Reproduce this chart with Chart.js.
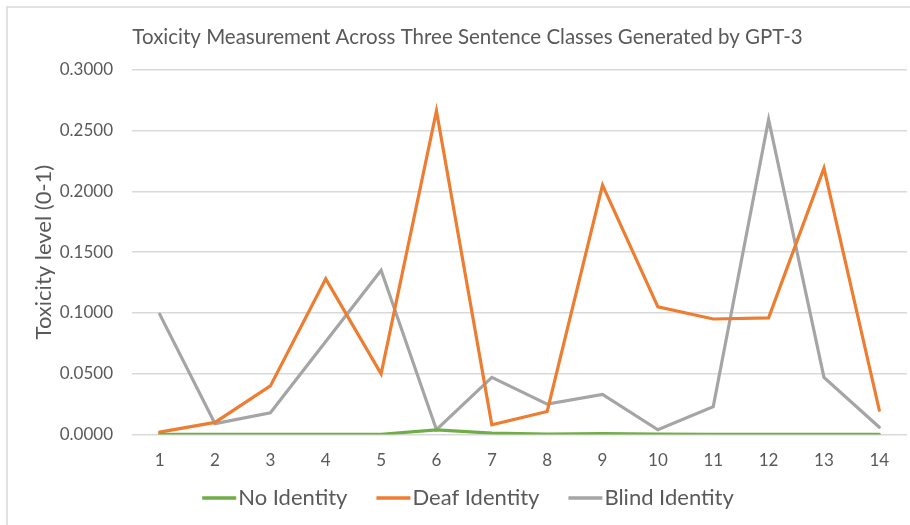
<!DOCTYPE html>
<html>
<head>
<meta charset="utf-8">
<script src="https://cdn.jsdelivr.net/npm/chart.js@4/dist/chart.umd.min.js"></script>
<style>
  html, body { margin: 0; padding: 0; background: #ffffff; }
  #wrap { width: 910px; height: 525px; position: relative; }
</style>
</head>
<body>
<div id="wrap"><canvas id="c"></canvas></div>
<script>
const categories = ['1','2','3','4','5','6','7','8','9','10','11','12','13','14'];
const noIdentity = [0.0003,0.0003,0.0003,0.0003,0.0003,0.0038,0.0012,0.0005,0.0008,0.0004,0.0003,0.0003,0.0003,0.0003];
const deafIdentity = [0.002,0.010,0.040,0.128,0.050,0.266,0.008,0.019,0.205,0.105,0.095,0.096,0.219,0.020];
const blindIdentity = [0.099,0.009,0.018,0.0765,0.135,0.004,0.047,0.025,0.033,0.004,0.023,0.259,0.047,0.006];
const seriesNames = ['No Identity','Deaf Identity','Blind Identity'];
const yTicks = [0, 0.05, 0.1, 0.15, 0.2, 0.25, 0.3];

const FONT = 'Lato, "Open Sans", "Noto Sans", sans-serif';
const TXT = '#595959';

const frame = {
  id: 'frame',
  beforeDraw(chart) {
    const ctx = chart.ctx;
    ctx.save();
    ctx.fillStyle = '#ffffff';
    ctx.fillRect(0, 0, chart.width, chart.height);
    ctx.strokeStyle = '#D9D9D9';
    ctx.lineWidth = 1.5;
    ctx.strokeRect(7, 7, chart.width + 20, chart.height + 20);
    ctx.restore();
  }
};

// Excel-style legend: line swatch directly followed by its text
const lineLegend = {
  id: 'lineLegend',
  afterDraw(chart) {
    const ctx = chart.ctx;
    const sets = chart.data.datasets;
    const swatch = 34, gapText = 2, gapItem = 29;
    ctx.save();
    ctx.font = '22px ' + FONT;
    ctx.textBaseline = 'middle';
    ctx.textAlign = 'left';
    const widths = sets.map(d => swatch + gapText + ctx.measureText(d.label).width);
    const total = widths.reduce((a, b) => a + b, 0) + gapItem * (sets.length - 1);
    let x = 468 - total / 2;
    const y = 498;
    sets.forEach((d, i) => {
      ctx.strokeStyle = d.borderColor;
      ctx.lineWidth = 3.5;
      ctx.lineCap = 'butt';
      ctx.beginPath();
      ctx.moveTo(x, y);
      ctx.lineTo(x + swatch, y);
      ctx.stroke();
      ctx.fillStyle = TXT;
      ctx.fillText(d.label, x + swatch + gapText, y);
      x += widths[i] + gapItem;
    });
    ctx.restore();
  }
};

new Chart(document.getElementById('c'), {
  type: 'line',
  data: {
    labels: categories,
    datasets: [
      { label: seriesNames[0], data: noIdentity, borderColor: '#70AD47', backgroundColor: '#70AD47' },
      { label: seriesNames[1], data: deafIdentity, borderColor: '#ED7D31', backgroundColor: '#ED7D31' },
      { label: seriesNames[2], data: blindIdentity, borderColor: '#A5A5A5', backgroundColor: '#A5A5A5' }
    ]
  },
  options: {
    responsive: true,
    maintainAspectRatio: false,
    animation: false,
    elements: {
      line: { borderWidth: 3.2, tension: 0, borderCapStyle: 'round', borderJoinStyle: 'miter' },
      point: { radius: 0, hoverRadius: 0 }
    },
    layout: { padding: { left: 28, right: 3, top: 10, bottom: 38 } },
    plugins: {
      title: {
        display: true,
        text: 'Toxicity Measurement Across Three Sentence Classes Generated by GPT-3',
        color: TXT,
        font: { family: FONT, size: 20.5, weight: 'normal' },
        padding: { top: 15, bottom: 20 }
      },
      legend: { display: false },
      tooltip: { enabled: false }
    },
    scales: {
      x: {
        offset: true,
        grid: { display: false, drawTicks: false },
        border: { display: false },
        ticks: { color: TXT, font: { family: FONT, size: 17 }, padding: 16 }
      },
      y: {
        min: 0,
        max: 0.3,
        afterBuildTicks(scale) { scale.ticks = yTicks.map(v => ({ value: v })); },
        afterFit(scale) { scale.width = 104; },
        grid: { color: '#D9D9D9', lineWidth: 1.5, drawTicks: false },
        border: { display: false },
        ticks: {
          color: TXT,
          font: { family: FONT, size: 17 },
          padding: 19,
          callback: v => Number(v).toFixed(4)
        },
        title: {
          display: true,
          text: 'Toxicity level (0-1)',
          color: TXT,
          font: { family: FONT, size: 22 },
          padding: { top: 3, bottom: 4 }
        }
      }
    }
  },
  plugins: [frame, lineLegend]
});
</script>
</body>
</html>
